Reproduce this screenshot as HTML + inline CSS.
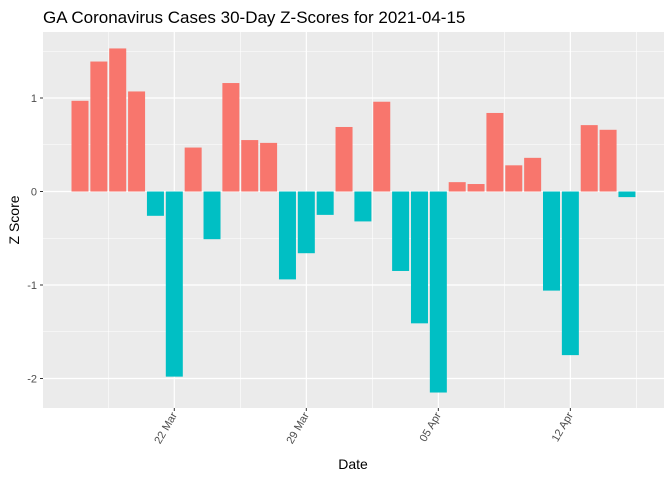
<!DOCTYPE html>
<html><head><meta charset="utf-8"><style>
body{margin:0;background:#fff;font-family:"Liberation Sans",Arial,sans-serif}
</style></head><body>
<svg id="c" width="672" height="480" xmlns="http://www.w3.org/2000/svg">
<text x="43" y="23" font-size="17" fill="#000">GA Coronavirus Cases 30-Day Z-Scores for 2021-04-15</text>
<rect x="43" y="32" width="621" height="376" fill="#ebebeb"/>
<g id="grid"></g><g id="bars"></g><g id="axes"></g>
<text x="353" y="469" font-size="14" text-anchor="middle" fill="#000">Date</text>
<text transform="translate(19,220) rotate(-90)" font-size="14" text-anchor="middle" fill="#000">Z Score</text>
</svg>
<script>
const dates=["17 Mar","18 Mar","19 Mar","20 Mar","21 Mar","22 Mar","23 Mar","24 Mar","25 Mar","26 Mar","27 Mar","28 Mar","29 Mar","30 Mar","31 Mar","01 Apr","02 Apr","03 Apr","04 Apr","05 Apr","06 Apr","07 Apr","08 Apr","09 Apr","10 Apr","11 Apr","12 Apr","13 Apr","14 Apr","15 Apr"];
const zscores=[0.97,1.39,1.53,1.07,-0.26,-1.98,0.47,-0.51,1.16,0.55,0.52,-0.94,-0.66,-0.25,0.69,-0.32,0.96,-0.85,-1.41,-2.15,0.10,0.08,0.84,0.28,0.36,-1.06,-1.75,0.71,0.66,-0.06];
const xTickLabels=["22 Mar","29 Mar","05 Apr","12 Apr"];
const xTickIdx=[5,12,19,26];
const yTicks=[-2,-1,0,1];
const NS="http://www.w3.org/2000/svg";
const dayW=18.86, x0=174.3-5*dayW;
const xs=i=>x0+i*dayW;
const ys=v=>191.5-v*93.5;
function mk(t,a,p){const e=document.createElementNS(NS,t);for(const k in a)e.setAttribute(k,a[k]);p.appendChild(e);return e;}
const g=document.getElementById('grid'),b=document.getElementById('bars'),ax=document.getElementById('axes');
for(const v of [-1.5,-0.5,0.5,1.5]){const l=mk('line',{x1:43,x2:664,y1:ys(v),y2:ys(v),stroke:'#fff','stroke-width':0.6},g);

}
for(const v of yTicks){const l=mk('line',{x1:43,x2:664,y1:ys(v),y2:ys(v),stroke:'#fff','stroke-width':1.2},g);


mk('line',{x1:40,x2:43,y1:ys(v),y2:ys(v),stroke:'#333'},ax);
const t=mk('text',{x:37,y:ys(v)+4,'font-size':11,'text-anchor':'end',fill:'#4d4d4d'},ax);t.textContent=v;

}
for(let k=0;k<xTickIdx.length+1;k++){const x=xs((k===0?xTickIdx[0]:xTickIdx[k-1])+(k===0?-3.5:3.5));
const l=mk('line',{x1:x,x2:x,y1:32,y2:408,stroke:'#fff','stroke-width':0.6},g);

}
xTickIdx.forEach((i,k)=>{const x=xs(i);
const l=mk('line',{x1:x,x2:x,y1:32,y2:408,stroke:'#fff','stroke-width':1.2},g);


mk('line',{x1:x,x2:x,y1:408,y2:411,stroke:'#333'},ax);
const t=mk('text',{transform:`translate(${x+3},415) rotate(-60)`,'font-size':11,'text-anchor':'end',fill:'#4d4d4d'},ax);
t.textContent=xTickLabels[k];

});
zscores.forEach((v,i)=>{const y=Math.min(ys(v),ys(0)),h=Math.abs(ys(v)-ys(0));
const r=mk('rect',{x:xs(i)-8.5,y:y,width:17,height:h,fill:v>=0?'#f8766d':'#00bfc4'},b);

});
</script>
</body></html>
